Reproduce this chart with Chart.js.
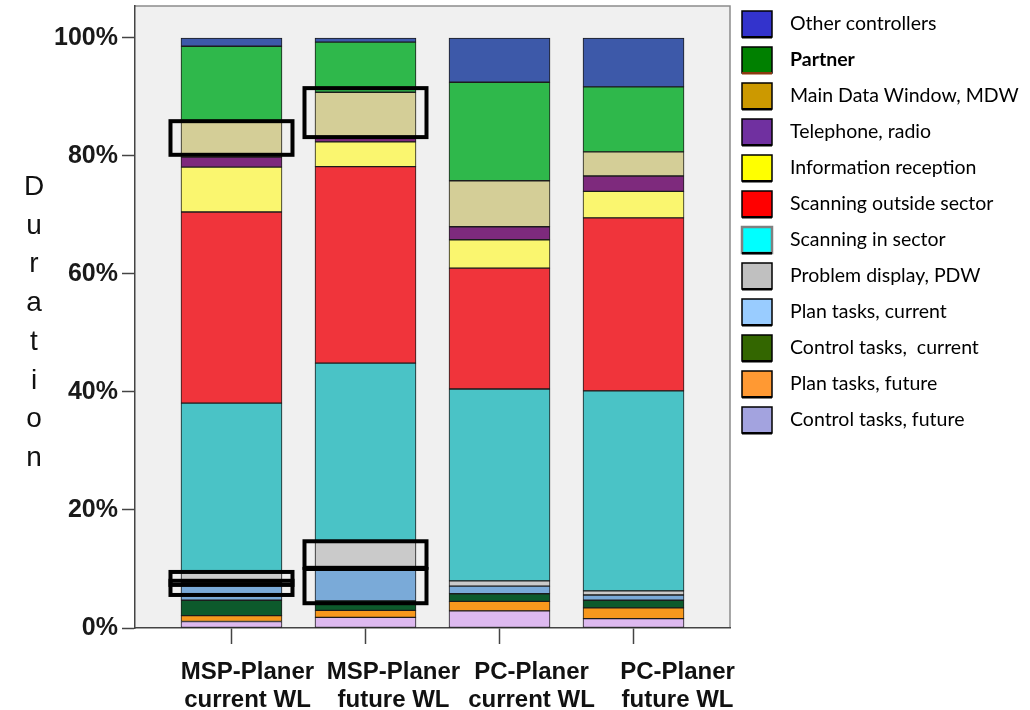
<!DOCTYPE html>
<html><head><meta charset="utf-8">
<script src="https://cdn.jsdelivr.net/npm/chart.js@4.4.0/dist/chart.umd.min.js"></script>
<style>html,body{margin:0;padding:0;background:#fff;}canvas{display:block;}</style>
</head><body>
<canvas id="c" width="1030" height="710"></canvas>
<script>
// ---- data (stack order bottom -> top) ----
const categories = [['MSP-Planer','current WL'],['MSP-Planer','future WL'],['PC-Planer','current WL'],['PC-Planer','future WL']];
const seriesNames = ['Control tasks, future','Plan tasks, future','Control tasks,  current','Plan tasks, current','Problem display, PDW','Scanning in sector','Scanning outside sector','Information reception','Telephone, radio','Main Data Window, MDW','Partner','Other controllers'];
const controlTasksFuture  = [1.1, 1.8, 2.9, 1.6];
const planTasksFuture     = [1.0, 1.2, 1.6, 1.8];
const controlTasksCurrent = [2.6, 1.6, 1.3, 1.3];
const planTasksCurrent    = [3.0, 5.6, 1.3, 0.9];
const problemDisplay      = [1.7, 4.5, 0.9, 0.7];
const scanningInSector    = [28.7, 30.2, 32.5, 33.9];
const scanningOutside     = [32.4, 33.3, 20.5, 29.3];
const informationRecept   = [7.6, 4.2, 4.8, 4.5];
const telephoneRadio      = [1.7, 0.6, 2.2, 2.6];
const mainDataWindow      = [5.9, 7.8, 7.8, 4.1];
const partner             = [12.9, 8.5, 16.7, 11.0];
const otherControllers    = [1.4, 0.7, 7.5, 8.3];
const seriesValues = [controlTasksFuture, planTasksFuture, controlTasksCurrent, planTasksCurrent, problemDisplay, scanningInSector, scanningOutside, informationRecept, telephoneRadio, mainDataWindow, partner, otherControllers];
const yTicks = [0, 20, 40, 60, 80, 100];
const yTitleLetters = ['D','u','r','a','t','i','o','n'];
// highlighted segments: category index and value range (%)
const highlightBoxes = [
  {cat:0, from:80.2, to:85.9},
  {cat:0, from:7.3, to:9.5},
  {cat:0, from:5.6, to:8.0},
  {cat:1, from:83.2, to:91.5},
  {cat:1, from:10.2, to:14.7},
  {cat:1, from:4.2, to:10.0}
];

// ---- styles ----
const barColors = ['#DDB9EF','#F7981D','#0D5A2C','#7AAAD8','#CACACA','#4AC3C6','#F0343B','#FAF66F','#7E2A7D','#D4CE97','#2FB84B','#3D59A9'];
const legendColors = ['#A3A3DF','#FF9933','#336600','#99CCFF','#C0C0C0','#00FFFF','#FF0000','#FFFF00','#7030A0','#CC9900','#008000','#3333CC'];
const LAYOUT = {axisLeft:135, plotRight:730, plotTop:6, plotBottom:628, xMin:-0.72, xMax:3.72, yMax:105.42,
  labelShift:[16,28,32,44], labelBase1:679, labelBase2:707,
  titleX:34, titleBase:195, titleStep:38.7,
  legSwX:742, legSwW:30, legSwH:26, legTop:11, legStep:36, legTextX:790, boxPad:11};

const datasets = seriesValues.map((vals, i) => ({
  label: seriesNames[i],
  data: vals.map((v, j) => ({x: j, y: v})),
  backgroundColor: barColors[i],
  borderColor: '#1c1c1c',
  borderWidth: 1,
  borderSkipped: false,
  barThickness: 101
}));

const decor = {
  id: 'decor',
  beforeDraw(chart) {
    const {ctx, chartArea: a} = chart;
    ctx.save();
    ctx.fillStyle = '#F0F0F0';
    ctx.fillRect(a.left, a.top, a.right - a.left, a.bottom - a.top);
    ctx.strokeStyle = '#8c8c8c';
    ctx.lineWidth = 1.5;
    ctx.beginPath();
    ctx.moveTo(a.left, a.top); ctx.lineTo(a.right, a.top); ctx.lineTo(a.right, a.bottom);
    ctx.stroke();
    ctx.restore();
  },
  afterDatasetsDraw(chart) {
    const {ctx} = chart; const xs = chart.scales.x, ys = chart.scales.y;
    ctx.save();
    ctx.strokeStyle = '#000'; ctx.lineWidth = 4;
    highlightBoxes.forEach(b => {
      const xc = xs.getPixelForValue(b.cat);
      const half = 50 + LAYOUT.boxPad;
      const yt = ys.getPixelForValue(b.to), yb = ys.getPixelForValue(b.from);
      ctx.strokeRect(xc - half, yt, half * 2, yb - yt);
    });
    ctx.restore();
  },
  afterDraw(chart) {
    const {ctx} = chart; const xs = chart.scales.x;
    ctx.save();
    ctx.fillStyle = '#111';
    ctx.font = 'bold 24px "Liberation Sans", Arial, sans-serif';
    ctx.textAlign = 'center'; ctx.textBaseline = 'alphabetic';
    categories.forEach((lines, i) => {
      const cx = xs.getPixelForValue(i) + LAYOUT.labelShift[i];
      ctx.fillText(lines[0], cx, LAYOUT.labelBase1);
      ctx.fillText(lines[1], cx, LAYOUT.labelBase2);
    });
    ctx.font = '28px "Liberation Sans", Arial, sans-serif';
    yTitleLetters.forEach((ch, i) => ctx.fillText(ch, LAYOUT.titleX, LAYOUT.titleBase + i * LAYOUT.titleStep));
    ctx.textAlign = 'left'; ctx.textBaseline = 'middle';
    const n = seriesNames.length;
    for (let k = 0; k < n; k++) {
      const i = n - 1 - k;
      const top = LAYOUT.legTop + k * LAYOUT.legStep;
      ctx.fillStyle = legendColors[i];
      ctx.fillRect(LAYOUT.legSwX, top, LAYOUT.legSwW, LAYOUT.legSwH);
      ctx.lineWidth = seriesNames[i] === 'Scanning in sector' ? 2.5 : 1.5;
      ctx.strokeStyle = seriesNames[i] === 'Scanning in sector' ? '#808080' : '#000';
      ctx.strokeRect(LAYOUT.legSwX, top, LAYOUT.legSwW, LAYOUT.legSwH);
      ctx.fillStyle = seriesNames[i] === 'Partner' ? '#8B3A0F' : '#000';
      ctx.fillRect(LAYOUT.legSwX, top + LAYOUT.legSwH - 1, LAYOUT.legSwW, 2.5);
      ctx.fillStyle = '#000';
      ctx.font = (seriesNames[i] === 'Partner' ? 'bold ' : '') + '19.5px Lato, "Open Sans", sans-serif';
      ctx.fillText(seriesNames[i], LAYOUT.legTextX, top + LAYOUT.legSwH / 2);
    }
    ctx.restore();
  }
};

new Chart(document.getElementById('c'), {
  type: 'bar',
  data: {datasets},
  options: {
    responsive: false, animation: false, devicePixelRatio: 1,
    layout: {padding: {left: 0, right: 1030 - LAYOUT.plotRight, top: LAYOUT.plotTop, bottom: 0}},
    plugins: {legend: {display: false}, tooltip: {enabled: false}},
    scales: {
      x: {
        type: 'linear', stacked: true, min: LAYOUT.xMin, max: LAYOUT.xMax, offset: false,
        afterBuildTicks: s => { s.ticks = categories.map((c, i) => ({value: i})); },
        afterFit: s => { s.height = 710 - LAYOUT.plotBottom; s.paddingLeft = 0; s.paddingRight = 0; },
        ticks: {display: false},
        grid: {offset: false, drawOnChartArea: false, tickLength: 16, color: '#444', tickWidth: 1.5},
        border: {color: '#444', width: 1.5}
      },
      y: {
        stacked: true, min: 0, max: LAYOUT.yMax,
        afterBuildTicks: s => { s.ticks = yTicks.map(v => ({value: v})); },
        afterFit: s => { s.width = LAYOUT.axisLeft; s.paddingTop = 0; s.paddingBottom = 0; },
        ticks: {callback: v => v + '%', color: '#1a1a1a', padding: 4,
          font: {family: '"Liberation Sans", Arial, sans-serif', size: 25, weight: 'bold'}},
        grid: {drawOnChartArea: false, tickLength: 13, color: '#444', tickWidth: 1.5},
        border: {color: '#444', width: 1.5}
      }
    }
  },
  plugins: [decor]
});
</script>
</body></html>
